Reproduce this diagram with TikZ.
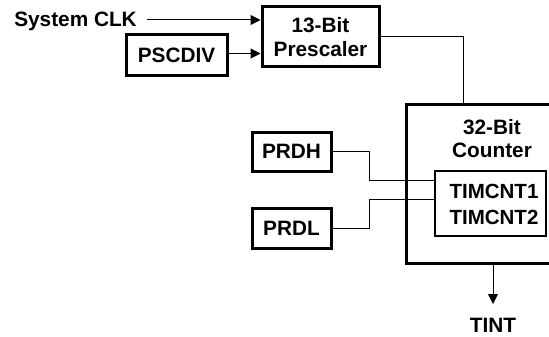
\documentclass[tikz,border=0pt]{standalone}
\usepackage{fontspec}
\setmainfont{Liberation Sans}
\usetikzlibrary{arrows.meta}
\begin{document}
\begin{tikzpicture}[x=1pt,y=-1pt,
  every node/.style={font=\fontsize{20.8}{23.5}\selectfont\bfseries, inner sep=0pt, align=center},
  arr/.style={line width=1pt, -{Triangle[length=10pt,width=10pt]}},
  wire/.style={line width=1pt}]
\clip (0,0) rectangle (549,337);
\fill[white] (0,0) rectangle (549,337);
% nodes
\node[anchor=east] (sysclk) at (137,21) {System CLK};
\node[draw, line width=3pt, minimum width=117pt, minimum height=60pt] (pre) at (320.5,37) {13-Bit\\Prescaler};
\node[draw, line width=3pt, minimum width=101pt, minimum height=41pt] (pscdiv) at (176.5,55.5) {PSCDIV};
\node[draw, line width=3pt, minimum width=172pt, minimum height=159pt] (counter) at (492,183.5) {};
\node (countertxt) at (492,138.5) {32-Bit\\Counter};
\node[draw, line width=1.5pt, minimum width=111pt, minimum height=65pt] (tim) at (490.5,203.5) {};
\node[font=\fontsize{20.5}{26}\selectfont\bfseries] (timtxt) at (494,204) {TIMCNT1\\TIMCNT2};
\node[draw, line width=3pt, minimum width=79pt, minimum height=39pt] (prdh) at (291.5,151.5) {PRDH};
\node[draw, line width=3pt, minimum width=79pt, minimum height=40pt] (prdl) at (291.5,228) {PRDL};
\node[anchor=base, align=none] (tint) at (493,332) {TINT};
\coordinate (tintin) at (493,304);
% connectors
\draw[arr, shorten <=10pt] (sysclk.east) ++(0,-1) -- ([yshift=17pt]pre.west);
\draw[arr] ([yshift=2pt]pscdiv.east) -- ([yshift=2pt]pscdiv.east -| pre.west);
\draw[wire] (pre.east) -| ([xshift=-29pt]counter.north);
\draw[wire] (prdh.east) -- ++(37,0) |- ([yshift=23.5pt]tim.west);
\draw[wire] (prdl.east) -- ++(37,0) |- ([yshift=4.5pt]tim.west);
\draw[arr] ([xshift=1pt]counter.south) -- (tintin);
\end{tikzpicture}
\end{document}
